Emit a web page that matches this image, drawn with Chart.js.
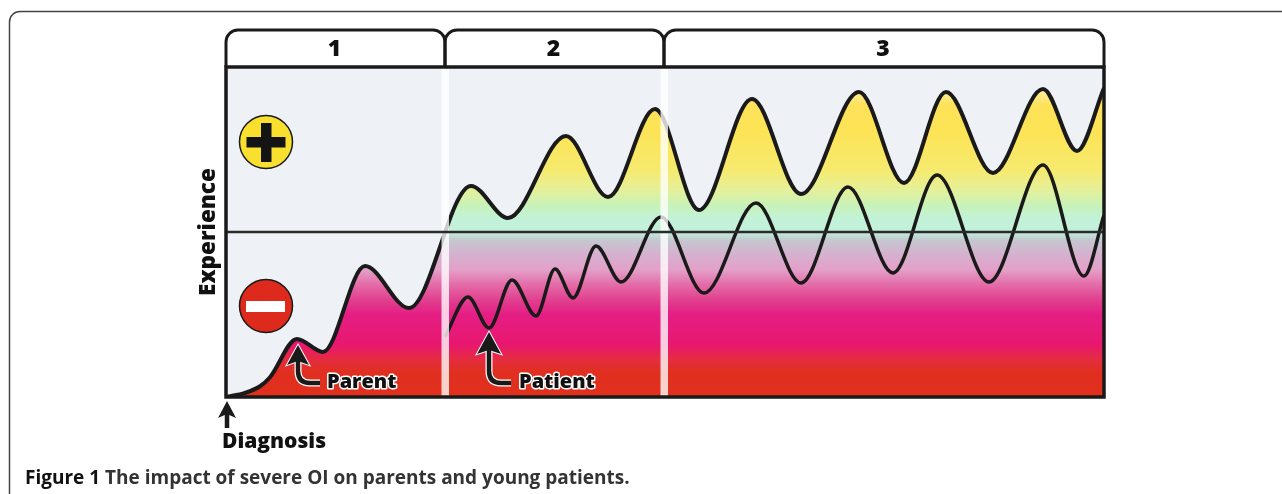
<!DOCTYPE html>
<html>
<head>
<meta charset="utf-8">
<title>Figure 1</title>
<script src="https://cdn.jsdelivr.net/npm/chart.js@4"></script>
<style>
    html, body { margin: 0; padding: 0; background: #fff; overflow: hidden; }
    #wrap { position: relative; width: 1282px; height: 494px; }
    #figure1 { position: absolute; left: 0; top: 0; }
</style>
</head>
<body>
<div id="wrap"><canvas id="figure1" width="1282" height="494"></canvas></div>
<script>
// Time runs 0-878, experience runs -100 (bad) to +100 (good)
const parentTime = [0, 19, 34, 44, 71, 97, 139, 183, 245, 282, 340, 382, 429, 473, 526, 575, 633, 678, 720, 767, 817, 851, 878];
const parentValues = [-100, -97.5, -93.5, -88, -64.8, -72.7, -20.6, -46.1, 27.9, 8.5, 58.2, 21.2, 74.5, 13.3, 80.6, 23, 84.8, 29.7, 84.8, 35.8, 86.7, 49.1, 87.3];
const patientTime = [219, 242, 263, 286, 310, 329, 347, 370, 395, 435, 478, 530, 575, 622, 667, 711, 763, 817, 858, 878];
const patientValues = [-63.6, -39.4, -58.2, -29.1, -50.9, -22.4, -40, -8.5, -30.3, 9.1, -37, 17.6, -30.9, 27.3, -24.8, 34.5, -30.3, 40.6, -26.7, 10.3];
const periodLabels = ['1', '2', '3'];
const periodEnds = [219, 438, 878];

const INK = '#1a1a1a';
const FONT = '"Open Sans", "Noto Sans", sans-serif';

// Colours of the fill from the top of the plot (0) to the bottom (1)
const fillStops = [
    [0.05, '#fff3c0'], [0.115, '#fde25a'], [0.19, '#fde355'], [0.312, '#f6ea6e'],
    [0.372, '#e5f09a'], [0.418, '#c8f2b8'], [0.46, '#c2f2d8'], [0.5, '#c3efdc'],
    [0.524, '#c4c8d0'], [0.57, '#d6b0cf'], [0.615, '#e3a0c8'], [0.66, '#e46ba8'],
    [0.706, '#e1408f'], [0.75, '#e41e84'], [0.842, '#e8176f'], [0.888, '#e42c3e'],
    [0.924, '#e02f20'], [1, '#e0301c']
];

function toPoints(xs, ys) {
    return xs.map(function(x, i) { return { x: x, y: ys[i] }; });
}

function fillGradient(context) {
    const area = context.chart.chartArea;
    if (!area) return '#e0301c';
    const g = context.chart.ctx.createLinearGradient(0, area.top, 0, area.bottom);
    fillStops.forEach(function(s) { g.addColorStop(s[0], s[1]); });
    return g;
}

function drawArrow(ctx, tipX, tipY, halfWidth, headLength, shaft) {
    function shaftPath() {
        ctx.beginPath();
        shaft(ctx);
    }
    function headPath() {
        ctx.beginPath();
        ctx.moveTo(tipX, tipY);
        ctx.lineTo(tipX + halfWidth, tipY + headLength);
        ctx.lineTo(tipX, tipY + headLength - 4);
        ctx.lineTo(tipX - halfWidth, tipY + headLength);
        ctx.closePath();
    }
    ctx.lineJoin = 'miter';
    ctx.strokeStyle = '#fff';
    ctx.lineWidth = 7;
    shaftPath();
    ctx.stroke();
    ctx.lineWidth = 2;
    headPath();
    ctx.stroke();
    ctx.strokeStyle = INK;
    ctx.lineWidth = 4.5;
    shaftPath();
    ctx.stroke();
    ctx.fillStyle = INK;
    headPath();
    ctx.fill();
}

function drawOutlinedLabel(ctx, text, x, y) {
    ctx.font = '800 20px ' + FONT;
    ctx.textAlign = 'left';
    ctx.textBaseline = 'alphabetic';
    ctx.strokeStyle = '#fff';
    ctx.lineWidth = 3;
    ctx.lineJoin = 'round';
    ctx.strokeText(text, x, y);
    ctx.fillStyle = '#111';
    ctx.fillText(text, x, y);
}

// Plot background, goes under the curves
const backgroundPlugin = {
    id: 'plotBackground',
    beforeDatasetsDraw: function(chart) {
        const a = chart.chartArea;
        chart.ctx.save();
        chart.ctx.fillStyle = '#eef1f5';
        chart.ctx.fillRect(a.left, a.top, a.width, a.height);
        chart.ctx.restore();
    }
};

// Everything that sits round and on top of the curves
const overlayPlugin = {
    id: 'overlay',
    afterDatasetsDraw: function(chart) {
        const ctx = chart.ctx;
        const a = chart.chartArea;
        const xs = chart.scales.x;
        const ys = chart.scales.y;
        ctx.save();

        // pale strips between the periods
        ctx.fillStyle = 'rgba(255, 255, 255, 0.78)';
        periodEnds.slice(0, 2).forEach(function(end) {
            ctx.fillRect(xs.getPixelForValue(end) - 3.5, a.top, 7.5, a.height);
        });

        // zero line
        const zero = ys.getPixelForValue(0);
        ctx.strokeStyle = '#2a2a2a';
        ctx.lineWidth = 2.5;
        ctx.beginPath();
        ctx.moveTo(a.left, zero);
        ctx.lineTo(a.right, zero);
        ctx.stroke();

        // plot border
        ctx.strokeStyle = INK;
        ctx.lineWidth = 3.5;
        ctx.strokeRect(a.left, a.top, a.width, a.height);

        // period tabs with their numbers
        let start = 0;
        periodEnds.forEach(function(end, i) {
            const l = xs.getPixelForValue(start);
            const r = xs.getPixelForValue(end);
            ctx.beginPath();
            ctx.moveTo(l, a.top);
            ctx.lineTo(l, 42);
            ctx.arcTo(l, 30, l + 12, 30, 12);
            ctx.lineTo(r - 12, 30);
            ctx.arcTo(r, 30, r, 42, 12);
            ctx.lineTo(r, a.top);
            ctx.lineWidth = 3;
            ctx.stroke();
            ctx.fillStyle = '#111';
            ctx.font = '800 23px ' + FONT;
            ctx.textAlign = 'center';
            ctx.textBaseline = 'alphabetic';
            ctx.fillText(periodLabels[i], (l + r) / 2 - 1, 56);
            start = end;
        });

        // plus and minus signs
        ctx.lineWidth = 1.5;
        ctx.beginPath();
        ctx.arc(266, 142, 26.5, 0, Math.PI * 2);
        ctx.fillStyle = '#f9e02e';
        ctx.fill();
        ctx.stroke();
        ctx.fillStyle = '#141414';
        ctx.fillRect(246.5, 137, 39, 10.5);
        ctx.fillRect(261, 123, 10.5, 39);
        ctx.beginPath();
        ctx.arc(266, 306, 26.5, 0, Math.PI * 2);
        ctx.fillStyle = '#de2a1c';
        ctx.fill();
        ctx.stroke();
        ctx.fillStyle = '#fff';
        ctx.fillRect(246, 301, 39, 11);

        // arrows and their labels
        drawArrow(ctx, 298, 345, 11, 20, function(c) {
            c.moveTo(298, 360);
            c.lineTo(298, 371);
            c.quadraticCurveTo(298, 383, 310, 383);
            c.lineTo(320, 383);
        });
        drawOutlinedLabel(ctx, 'Parent', 327, 388);
        drawArrow(ctx, 489, 332, 12, 22, function(c) {
            c.moveTo(489, 350);
            c.lineTo(489, 371);
            c.quadraticCurveTo(489, 383, 501, 383);
            c.lineTo(511, 383);
        });
        drawOutlinedLabel(ctx, 'Patient', 519, 388);
        drawArrow(ctx, 227, 401, 9, 17, function(c) {
            c.moveTo(227, 414);
            c.lineTo(227, 428);
        });

        ctx.fillStyle = '#111';
        ctx.font = '800 21px ' + FONT;
        ctx.textAlign = 'left';
        ctx.textBaseline = 'alphabetic';
        ctx.fillText('Diagnosis', 222, 448);

        // axis title
        ctx.save();
        ctx.translate(215, ys.getPixelForValue(0));
        ctx.rotate(-Math.PI / 2);
        ctx.textAlign = 'center';
        ctx.font = '800 22.5px ' + FONT;
        ctx.fillText('Experience', 0, 0);
        ctx.restore();

        // rounded frame of the figure, runs off the page on the right and bottom
        ctx.strokeStyle = '#444';
        ctx.lineWidth = 1.5;
        ctx.beginPath();
        ctx.moveTo(9.5, 494);
        ctx.lineTo(9.5, 22);
        ctx.arcTo(9.5, 11.5, 20, 11.5, 10.5);
        ctx.lineTo(1282, 11.5);
        ctx.stroke();

        // caption
        ctx.textAlign = 'left';
        ctx.font = 'bold 19px ' + FONT;
        ctx.fillStyle = '#111';
        ctx.fillText('Figure 1', 25, 484);
        const w = ctx.measureText('Figure 1 ').width;
        ctx.fillStyle = '#333';
        ctx.fillText('The impact of severe OI on parents and young patients.', 25 + w, 484);

        ctx.restore();
    }
};

new Chart(document.getElementById('figure1'), {
    type: 'line',
    data: {
        datasets: [
            {
                label: 'Parent',
                data: toPoints(parentTime, parentValues),
                order: 2,
                borderColor: INK,
                borderWidth: 4,
                backgroundColor: fillGradient,
                fill: 'start',
                cubicInterpolationMode: 'monotone',
                pointRadius: 0
            },
            {
                label: 'Patient',
                data: toPoints(patientTime, patientValues),
                order: 1,
                borderColor: INK,
                borderWidth: 3.5,
                fill: false,
                cubicInterpolationMode: 'monotone',
                pointRadius: 0
            }
        ]
    },
    options: {
        responsive: false,
        animation: false,
        layout: { padding: { left: 226, top: 67, right: 178, bottom: 97 } },
        plugins: {
            legend: { display: false },
            tooltip: { enabled: false }
        },
        scales: {
            x: { type: 'linear', min: 0, max: 878, display: false },
            y: { min: -100, max: 100, display: false }
        }
    },
    plugins: [backgroundPlugin, overlayPlugin]
});
</script>
</body>
</html>
